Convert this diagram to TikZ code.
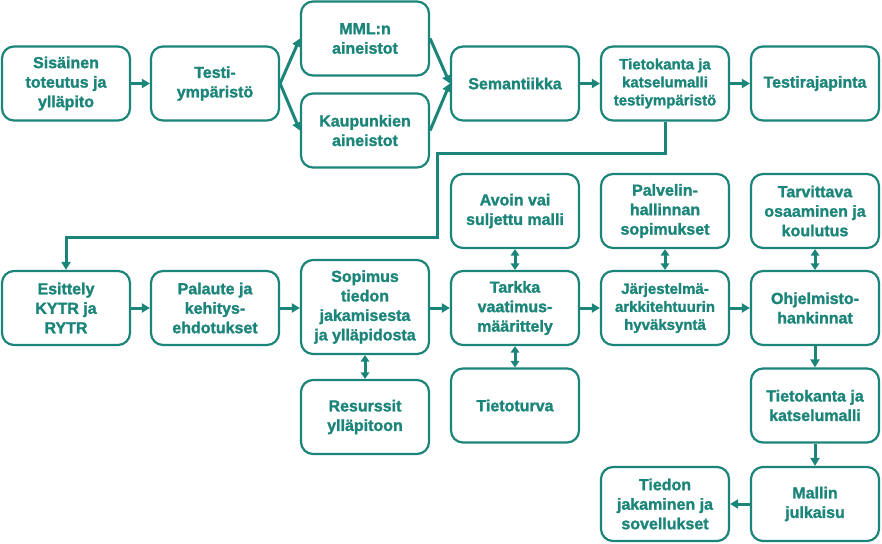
\documentclass[tikz,border=0pt]{standalone}
\usepackage{fontspec}
\setmainfont{Liberation Sans}[BoldFeatures={FakeBold=1.5}]
\usetikzlibrary{arrows.meta}
\definecolor{teal1}{RGB}{28,133,122}
\begin{document}
\begin{tikzpicture}[x=1pt,y=-1pt,
  box/.style={draw=teal1, line width=2.2pt, rounded corners=12pt, fill=white,
    minimum width=128pt, minimum height=74pt, inner sep=0pt, align=center,
    text=teal1, font=\fontsize{16}{19.5}\selectfont\bfseries},
  smalltext/.style={font=\fontsize{15}{18}\selectfont\bfseries},
  conn/.style={draw=teal1, line width=3pt},
  arr/.style={conn, -{Triangle[length=8pt,width=9pt]}},
  darr/.style={conn, {Triangle[length=6.5pt,width=8.5pt]}-{Triangle[length=6.5pt,width=8.5pt]}}]
\fill[white] (0,0) rectangle (882,543);
\useasboundingbox (0,0) rectangle (882,543);
% row 1
\node[box] (s1) at (66,83.5) {Sisäinen\\toteutus ja\\ylläpito};
\node[box] (s2) at (215,83.5) {Testi-\\ympäristö};
\node[box] (mml) at (365,38.5) {MML:n\\aineistot};
\node[box] (kau) at (365,130.5) {Kaupunkien\\aineistot};
\node[box] (sem) at (515,83.5) {Semantiikka};
\node[box, smalltext] (tk1) at (665,83.5) {Tietokanta ja\\katselumalli\\testiympäristö};
\node[box] (tr) at (815,83.5) {Testirajapinta};
% row 2 top
\node[box] (avo) at (515,211) {Avoin vai\\suljettu malli};
\node[box] (pal) at (665,211) {Palvelin-\\hallinnan\\sopimukset};
\node[box] (tar) at (815,211) {Tarvittava\\osaaminen ja\\koulutus};
% row 2 main
\node[box] (esi) at (66,308) {Esittely\\KYTR ja\\RYTR};
\node[box] (pk) at (215,308) {Palaute ja\\kehitys-\\ehdotukset};
\node[box, minimum height=94pt] (sop) at (365,307) {Sopimus\\tiedon\\jakamisesta\\ja ylläpidosta};
\node[box] (tv) at (515,308) {Tarkka\\vaatimus-\\määrittely};
\node[box, smalltext] (ja) at (665,308) {Järjestelmä-\\arkkitehtuurin\\hyväksyntä};
\node[box] (oh) at (815,308) {Ohjelmisto-\\hankinnat};
% lower
\node[box] (res) at (365,417) {Resurssit\\ylläpitoon};
\node[box] (tt) at (515,405.5) {Tietoturva};
\node[box] (tk2) at (815,405.5) {Tietokanta ja\\katselumalli};
\node[box] (mj) at (815,504) {Mallin\\julkaisu};
\node[box] (tj) at (665,504) {Tiedon\\jakaminen ja\\sovellukset};
% connectors
\draw[arr] (s1.east) -- (s2.west);
\draw[arr] (s2.east) -- (mml.west);
\draw[arr] (s2.east) -- (kau.west);
\draw[arr] (mml.east) -- (sem.west);
\draw[arr] (kau.east) -- (sem.west);
\draw[arr] (sem.east) -- (tk1.west);
\draw[arr] (tk1.east) -- (tr.west);
\coordinate (c1) at (437,153);
\coordinate (c2) at (437,237);
\draw[arr, line join=miter] (tk1.south) |- (c1) -- (c2) -| (esi.north);
\draw[arr] (esi.east) -- (pk.west);
\draw[arr] (pk.east) -- (sop.west |- pk.east);
\draw[arr] (sop.east |- tv.west) -- (tv.west);
\draw[arr] (tv.east) -- (ja.west);
\draw[arr] (ja.east) -- (oh.west);
\draw[darr] (avo.south) -- (tv.north);
\draw[darr] (pal.south) -- (ja.north);
\draw[darr] (tar.south) -- (oh.north);
\draw[darr] (sop.south) -- (res.north);
\draw[darr] (tv.south) -- (tt.north);
\draw[arr] (oh.south) -- (tk2.north);
\draw[arr] (tk2.south) -- (mj.north);
\draw[arr] (mj.west) -- (tj.east);
\end{tikzpicture}
\end{document}
